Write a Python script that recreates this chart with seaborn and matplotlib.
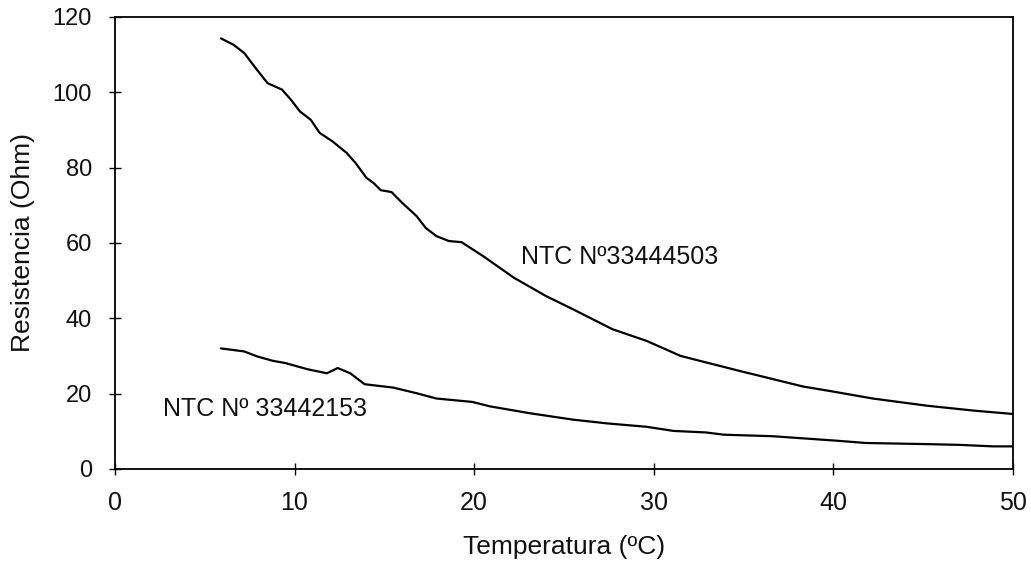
import matplotlib
matplotlib.use("Agg")
import matplotlib.pyplot as plt
import seaborn as sns
import pandas as pd

# Series 1: NTC Nº33444503
temp_a = [5.9, 6.6, 7.2, 7.9, 8.5, 9.3, 9.8, 10.3, 10.9, 11.4, 12.1, 12.9, 13.4, 14.0,
          14.4, 14.8, 15.4, 16.0, 16.8, 17.3, 17.9, 18.6, 19.3, 20.5, 22.2, 24.0, 25.5,
          27.7, 29.6, 31.5, 32.9, 34.8, 36.0, 38.3, 39.8, 42.2, 45.2, 47.8, 50.0]
res_a = [114.3, 112.6, 110.4, 106.0, 102.4, 100.7, 98.0, 94.9, 92.7, 89.2, 87.0, 83.9,
         81.2, 77.3, 75.9, 74.0, 73.5, 70.6, 67.1, 64.0, 61.8, 60.5, 60.2, 56.5, 50.8,
         45.9, 42.4, 37.1, 34.0, 30.0, 28.3, 26.0, 24.6, 21.9, 20.7, 18.7, 16.8, 15.5, 14.6]

# Series 2: NTC Nº 33442153
temp_b = [5.9, 7.2, 7.9, 8.8, 9.5, 10.7, 11.8, 12.4, 13.1, 13.9, 15.5, 16.8, 17.9, 19.9,
          20.9, 23.1, 25.5, 27.4, 29.6, 31.1, 32.9, 33.9, 36.6, 40.2, 41.8, 45.2, 47.0,
          48.9, 50.0]
res_b = [32.0, 31.2, 29.9, 28.7, 28.1, 26.5, 25.4, 26.8, 25.4, 22.5, 21.6, 20.1, 18.7,
         17.8, 16.6, 14.8, 13.1, 12.1, 11.2, 10.1, 9.7, 9.1, 8.7, 7.5, 6.9, 6.6, 6.4,
         6.0, 6.0]

labels = ["NTC Nº33444503", "NTC Nº 33442153"]
x_ticks = [0, 10, 20, 30, 40, 50]
y_ticks = [0, 20, 40, 60, 80, 100, 120]

df = pd.concat([
    pd.DataFrame({"Temperatura": temp_a, "Resistencia": res_a, "sensor": labels[0]}),
    pd.DataFrame({"Temperatura": temp_b, "Resistencia": res_b, "sensor": labels[1]}),
], ignore_index=True)

sns.set_style("ticks")
plt.rcParams["font.family"] = ["Liberation Sans", "DejaVu Sans"]

fig = plt.figure(figsize=(10.31, 5.63), dpi=100)
ax = fig.add_axes([0.1115, 0.167, 0.871, 0.803])

sns.lineplot(data=df, x="Temperatura", y="Resistencia", hue="sensor",
             palette=["black", "black"], linewidth=1.6, legend=False,
             sort=False, estimator=None, ax=ax)

ax.set_xlim(0, 50)
ax.set_ylim(0, 120)
ax.set_xticks(x_ticks)
ax.set_yticks(y_ticks)
ax.tick_params(axis="x", direction="inout", length=9, width=1, labelsize=18, pad=11,
               colors="black", labelcolor="#111111")
ax.tick_params(axis="y", direction="inout", length=9, width=1, labelsize=17, pad=12,
               colors="black", labelcolor="#111111")
for s in ax.spines.values():
    s.set_visible(True)
    s.set_linewidth(1.3)
    s.set_color("black")

ax.set_xlabel("Temperatura (ºC)", fontsize=19, labelpad=15, color="#111111")
ax.set_ylabel("Resistencia (Ohm)", fontsize=19, labelpad=13, color="#111111")

ax.text(22.6, 56.2, labels[0], fontsize=18, va="center", ha="left", color="#111111")
ax.text(2.65, 15.9, labels[1], fontsize=18, va="center", ha="left", color="#111111")

fig.savefig("out.png", dpi=100, facecolor="white")
